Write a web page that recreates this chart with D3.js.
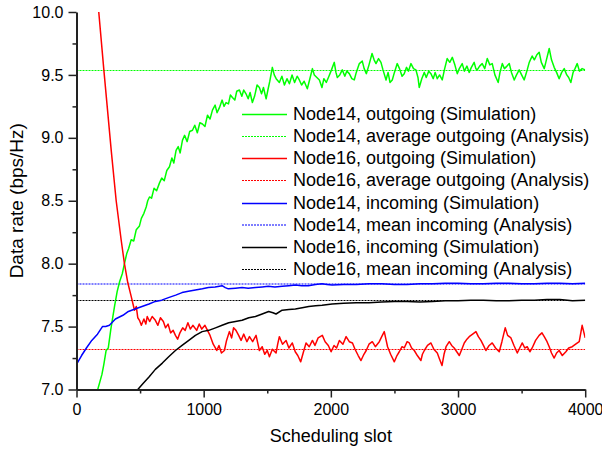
<!DOCTYPE html>
<html>
<head>
<meta charset="utf-8">
<script src="https://cdn.jsdelivr.net/npm/d3@7"></script>
<style>
  body { margin: 0; background: #fff; }
  text { font-family: "Liberation Sans", Arial, sans-serif; fill: #000; }
  .axis path, .axis line { stroke: #222; }
</style>
</head>
<body>
<div id="chart"></div>
<script>
// Data: [scheduling slot, data rate]
// =================================
var node14Out = [[167,7.00],[200,7.12],[215,7.20],[233,7.31],[250,7.33],[270,7.48],[299,7.66],[320,7.78],[340,7.86],[360,7.92],[377,8.00],[395,8.08],[410,8.12],[430,8.19],[450,8.18],[470,8.27],[495,8.30],[510,8.36],[530,8.40],[548,8.45],[560,8.50],[574,8.53],[590,8.52],[610,8.60],[630,8.58],[652,8.64],[670,8.68],[690,8.66],[710,8.74],[731,8.77],[750,8.84],[765,8.80],[783,8.90],[800,8.93],[815,8.88],[833,8.98],[850,9.02],[870,8.97],[890,9.05],[912,9.06],[930,9.10],[950,9.04],[970,9.12],[990,9.11],[1010,9.09],[1030,9.18],[1050,9.15],[1069,9.22],[1090,9.26],[1105,9.20],[1124,9.24],[1145,9.30],[1160,9.25],[1176,9.28],[1195,9.27],[1210,9.34],[1226,9.32],[1245,9.30],[1260,9.37],[1281,9.38],[1300,9.33],[1315,9.38],[1333,9.35],[1350,9.31],[1365,9.36],[1383,9.28],[1400,9.33],[1420,9.42],[1438,9.40],[1455,9.35],[1470,9.40],[1491,9.31],[1505,9.38],[1520,9.45],[1540,9.56],[1555,9.50],[1570,9.47],[1595,9.44],[1615,9.49],[1635,9.42],[1655,9.47],[1674,9.43],[1695,9.50],[1715,9.44],[1735,9.49],[1752,9.46],[1770,9.42],[1790,9.45],[1815,9.39],[1835,9.47],[1855,9.55],[1870,9.50],[1890,9.48],[1910,9.46],[1930,9.40],[1945,9.47],[1964,9.44],[1985,9.49],[2005,9.54],[2027,9.60],[2040,9.52],[2051,9.48],[2070,9.50],[2090,9.54],[2110,9.49],[2125,9.53],[2145,9.51],[2165,9.47],[2184,9.46],[2200,9.52],[2224,9.59],[2247,9.61],[2262,9.55],[2279,9.51],[2300,9.58],[2324,9.67],[2340,9.62],[2355,9.59],[2375,9.63],[2394,9.60],[2410,9.54],[2434,9.46],[2450,9.52],[2465,9.44],[2483,9.46],[2500,9.52],[2522,9.59],[2540,9.55],[2560,9.49],[2577,9.51],[2595,9.56],[2610,9.53],[2630,9.59],[2650,9.55],[2669,9.54],[2685,9.48],[2695,9.40],[2715,9.47],[2735,9.52],[2750,9.48],[2770,9.53],[2787,9.51],[2805,9.47],[2820,9.52],[2837,9.47],[2855,9.50],[2876,9.46],[2895,9.55],[2915,9.63],[2935,9.60],[2955,9.64],[2975,9.58],[2994,9.51],[3010,9.55],[3033,9.59],[3050,9.53],[3070,9.57],[3088,9.52],[3105,9.56],[3127,9.60],[3140,9.55],[3151,9.54],[3170,9.57],[3190,9.59],[3210,9.55],[3230,9.63],[3250,9.58],[3269,9.59],[3290,9.50],[3316,9.44],[3330,9.52],[3348,9.59],[3365,9.55],[3385,9.57],[3403,9.59],[3420,9.52],[3442,9.46],[3460,9.50],[3481,9.54],[3500,9.50],[3520,9.46],[3535,9.51],[3544,9.54],[3560,9.60],[3583,9.65],[3600,9.62],[3620,9.66],[3638,9.68],[3655,9.60],[3678,9.55],[3695,9.62],[3717,9.71],[3735,9.62],[3756,9.56],[3775,9.52],[3795,9.47],[3815,9.52],[3835,9.55],[3855,9.50],[3870,9.48],[3887,9.44],[3905,9.52],[3920,9.55],[3937,9.59],[3955,9.53],[3976,9.55],[4000,9.54]];

var node16Out = [[175,10.0],[215,9.54],[273,8.90],[312,8.50],[351,8.19],[377,8.00],[403,7.85],[430,7.74],[456,7.63],[470,7.66],[482,7.57],[495,7.55],[510,7.51],[530,7.56],[545,7.52],[556,7.58],[575,7.54],[595,7.58],[620,7.55],[640,7.51],[660,7.57],[683,7.54],[700,7.49],[720,7.52],[740,7.45],[760,7.47],[778,7.43],[795,7.40],[813,7.45],[835,7.49],[855,7.47],[876,7.53],[895,7.48],[915,7.51],[945,7.47],[965,7.52],[985,7.48],[1010,7.51],[1030,7.47],[1050,7.43],[1075,7.36],[1103,7.31],[1120,7.35],[1140,7.29],[1163,7.31],[1180,7.39],[1202,7.46],[1220,7.41],[1235,7.49],[1254,7.47],[1275,7.43],[1294,7.39],[1315,7.44],[1340,7.38],[1360,7.42],[1385,7.38],[1412,7.43],[1425,7.37],[1438,7.31],[1460,7.34],[1480,7.28],[1500,7.31],[1517,7.26],[1540,7.32],[1569,7.29],[1582,7.36],[1595,7.42],[1620,7.36],[1648,7.39],[1670,7.33],[1697,7.37],[1720,7.30],[1740,7.27],[1763,7.22],[1785,7.30],[1805,7.37],[1830,7.34],[1855,7.39],[1875,7.35],[1900,7.41],[1933,7.43],[1955,7.38],[1980,7.35],[2002,7.30],[2025,7.35],[2045,7.33],[2067,7.39],[2095,7.36],[2120,7.42],[2145,7.38],[2170,7.37],[2190,7.32],[2215,7.27],[2237,7.23],[2260,7.28],[2278,7.31],[2300,7.36],[2326,7.38],[2350,7.34],[2381,7.38],[2400,7.42],[2420,7.46],[2435,7.39],[2446,7.34],[2470,7.28],[2499,7.22],[2520,7.27],[2538,7.30],[2560,7.34],[2577,7.33],[2600,7.38],[2617,7.37],[2635,7.33],[2656,7.31],[2680,7.27],[2708,7.23],[2720,7.28],[2735,7.31],[2760,7.35],[2787,7.37],[2810,7.32],[2837,7.29],[2855,7.24],[2874,7.19],[2890,7.28],[2906,7.34],[2931,7.38],[2950,7.35],[2970,7.33],[2990,7.30],[3010,7.27],[3030,7.32],[3049,7.37],[3070,7.40],[3088,7.42],[3115,7.44],[3141,7.46],[3160,7.42],[3180,7.39],[3200,7.35],[3219,7.31],[3245,7.35],[3269,7.37],[3295,7.33],[3324,7.30],[3345,7.38],[3371,7.49],[3390,7.43],[3416,7.41],[3440,7.35],[3466,7.29],[3485,7.33],[3505,7.37],[3525,7.33],[3544,7.34],[3565,7.30],[3583,7.33],[3610,7.39],[3638,7.43],[3660,7.45],[3678,7.42],[3700,7.38],[3717,7.34],[3735,7.29],[3756,7.25],[3775,7.29],[3795,7.31],[3820,7.27],[3848,7.30],[3870,7.33],[3898,7.34],[3925,7.36],[3953,7.38],[3976,7.51],[4000,7.41]];

var node14In = [[0,7.20],[40,7.27],[78,7.33],[120,7.39],[165,7.44],[204,7.50],[230,7.50],[259,7.51],[306,7.56],[365,7.59],[408,7.62],[460,7.64],[515,7.66],[570,7.68],[620,7.70],[670,7.71],[723,7.73],[780,7.75],[830,7.77],[880,7.78],[935,7.79],[990,7.80],[1037,7.81],[1090,7.815],[1145,7.825],[1170,7.81],[1194,7.80],[1250,7.805],[1302,7.81],[1350,7.805],[1407,7.81],[1460,7.815],[1508,7.82],[1560,7.815],[1617,7.82],[1670,7.825],[1721,7.83],[1770,7.825],[1823,7.825],[1880,7.835],[1930,7.84],[1970,7.835],[2010,7.83],[2100,7.835],[2200,7.835],[2300,7.84],[2400,7.84],[2500,7.835],[2600,7.835],[2700,7.84],[2800,7.84],[2900,7.845],[3000,7.845],[3100,7.84],[3200,7.84],[3300,7.845],[3400,7.845],[3500,7.84],[3600,7.84],[3700,7.845],[3800,7.845],[3900,7.84],[4000,7.845]];

var node16In = [[482,7.00],[525,7.05],[570,7.10],[620,7.16],[675,7.21],[725,7.26],[778,7.31],[830,7.35],[883,7.39],[935,7.43],[988,7.46],[1040,7.47],[1093,7.49],[1145,7.51],[1197,7.53],[1250,7.54],[1302,7.55],[1355,7.57],[1407,7.58],[1460,7.60],[1511,7.62],[1545,7.61],[1569,7.60],[1617,7.63],[1670,7.635],[1721,7.64],[1775,7.65],[1826,7.66],[1880,7.665],[1931,7.67],[2010,7.68],[2100,7.685],[2200,7.69],[2300,7.69],[2400,7.695],[2500,7.70],[2600,7.70],[2700,7.695],[2800,7.70],[2900,7.705],[3000,7.705],[3100,7.71],[3200,7.71],[3300,7.705],[3400,7.705],[3500,7.71],[3600,7.71],[3700,7.715],[3800,7.715],[3900,7.705],[4000,7.71]];

// Analysis levels (horizontal reference lines)
var node14OutAvg = 9.54;
var node16OutAvg = 7.32;
var node14InMean = 7.84;
var node16InMean = 7.715;

var legendLabels = [
  "Node14, outgoing (Simulation)",
  "Node14, average outgoing (Analysis)",
  "Node16, outgoing (Simulation)",
  "Node16, average outgoing (Analysis)",
  "Node14, incoming (Simulation)",
  "Node14, mean incoming (Analysis)",
  "Node16, incoming (Simulation)",
  "Node16, mean incoming (Analysis)"
];

var xTicks = [0, 1000, 2000, 3000, 4000];
var yTicks = [7.0, 7.5, 8.0, 8.5, 9.0, 9.5, 10.0];

// Step 1: Set up our chart
// =================================
var svgWidth  = 602;
var svgHeight = 449;

var margin = {
  top:    12,
  right:  16.8,
  bottom: 59.5,
  left:   76.5
};

var width  = svgWidth  - margin.left - margin.right;
var height = svgHeight - margin.top  - margin.bottom;

var svg = d3.select("#chart")
  .append("svg")
  .attr("width", svgWidth)
  .attr("height", svgHeight);

var svgGroup = svg.append("g")
  .attr("transform", `translate(${margin.left}, ${margin.top})`);

svgGroup.append("clipPath")
  .attr("id", "plotClip")
  .append("rect")
  .attr("width", width)
  .attr("height", height);

// Step 2: Scales
// =================================
var xScale = d3.scaleLinear().domain([0, 4000]).range([0, width]);
var yScale = d3.scaleLinear().domain([7.0, 10.0]).range([height, 0]);

// Step 3: Series styles
// =================================
var series = [
  {data: node14Out, color: "#00ff00", level: node14OutAvg, levelWidth: 1},
  {data: node16Out, color: "#ff0000", level: node16OutAvg, levelWidth: 1},
  {data: node14In,  color: "#0000ff", level: node14InMean, levelWidth: 2},
  {data: node16In,  color: "#000000", level: node16InMean, levelWidth: 1}
];

var line = d3.line()
  .x(d => xScale(d[0]))
  .y(d => yScale(d[1]));

var plot = svgGroup.append("g")
  .attr("clip-path", "url(#plotClip)");

// analysis levels first, simulation curves on top
series.forEach(function(s) {
  var yLevel = Math.round(yScale(s.level)) + (s.levelWidth > 1 ? 0 : 0.5);
  plot.append("line")
    .attr("x1", xScale(0))
    .attr("x2", xScale(4000))
    .attr("y1", yLevel)
    .attr("y2", yLevel)
    .attr("stroke", s.color)
    .attr("stroke-width", s.levelWidth)
    .attr("stroke-dasharray", "2,1")
    .attr("opacity", s.levelWidth > 1 ? 0.5 : 1);
});

series.forEach(function(s) {
  plot.append("path")
    .datum(s.data)
    .attr("fill", "none")
    .attr("stroke", s.color)
    .attr("stroke-width", 1.5)
    .attr("stroke-linejoin", "round")
    .attr("d", line);
});

// Step 4: Axes (major + minor ticks)
// =================================
var xAxisG = svgGroup.append("g")
  .attr("class", "axis")
  .attr("transform", `translate(0, ${height})`);

xAxisG.append("g")
  .call(d3.axisBottom(xScale).tickValues(d3.range(500, 4000, 1000)).tickSize(4).tickFormat(""))
  .call(g => g.select(".domain").remove());

xAxisG.append("g")
  .call(d3.axisBottom(xScale).tickValues(xTicks).tickSize(8).tickPadding(6).tickSizeOuter(0).tickFormat(d3.format("d")));

var yAxisG = svgGroup.append("g")
  .attr("class", "axis");

yAxisG.append("g")
  .call(d3.axisLeft(yScale).tickValues(d3.range(7.25, 10, 0.5)).tickSize(4).tickFormat(""))
  .call(g => g.select(".domain").remove());

yAxisG.append("g")
  .call(d3.axisLeft(yScale).tickValues(yTicks).tickSize(8).tickPadding(5).tickSizeOuter(0).tickFormat(d3.format(".1f")));

svgGroup.selectAll(".axis .domain").attr("stroke-width", 2);
svgGroup.selectAll(".axis .tick line").attr("stroke-width", 1.5);
svgGroup.selectAll(".axis .tick text")
  .style("font-size", "16px")
  .style("font-family", "'Liberation Sans', Arial, sans-serif")
  .attr("fill", "#000");

// Step 5: Axis titles
// =================================
svg.append("text")
  .attr("x", margin.left + width / 2)
  .attr("y", 442)
  .attr("text-anchor", "middle")
  .style("font-size", "18px")
  .text("Scheduling slot");

svg.append("text")
  .attr("transform", `translate(23, ${margin.top + height / 2}) rotate(-90)`)
  .attr("text-anchor", "middle")
  .style("font-size", "19px")
  .text("Data rate (bps/Hz)");

// Step 6: Legend
// =================================
var legend = svg.append("g")
  .attr("transform", "translate(242, 0)");

var legendRows = legend.selectAll("g")
  .data(legendLabels)
  .enter().append("g")
  .attr("transform", (d, i) => `translate(0, ${Math.round(114 + i * 22.15)})`);

legendRows.append("line")
  .attr("x1", 0)
  .attr("x2", 45)
  .attr("y1", (d, i) => i === 5 ? 0 : 0.5)
  .attr("y2", (d, i) => i === 5 ? 0 : 0.5)
  .attr("stroke", (d, i) => series[Math.floor(i / 2)].color)
  .attr("stroke-width", (d, i) => i === 5 ? 2 : (i % 2 === 1 ? 1 : 1.5))
  .attr("stroke-dasharray", (d, i) => i % 2 === 1 ? "2,1" : null)
  .attr("opacity", (d, i) => i === 5 ? 0.5 : 1);

legendRows.append("text")
  .attr("x", 51)
  .attr("dy", "0.36em")
  .style("font-size", "18px")
  .text(d => d);
</script>
</body>
</html>
